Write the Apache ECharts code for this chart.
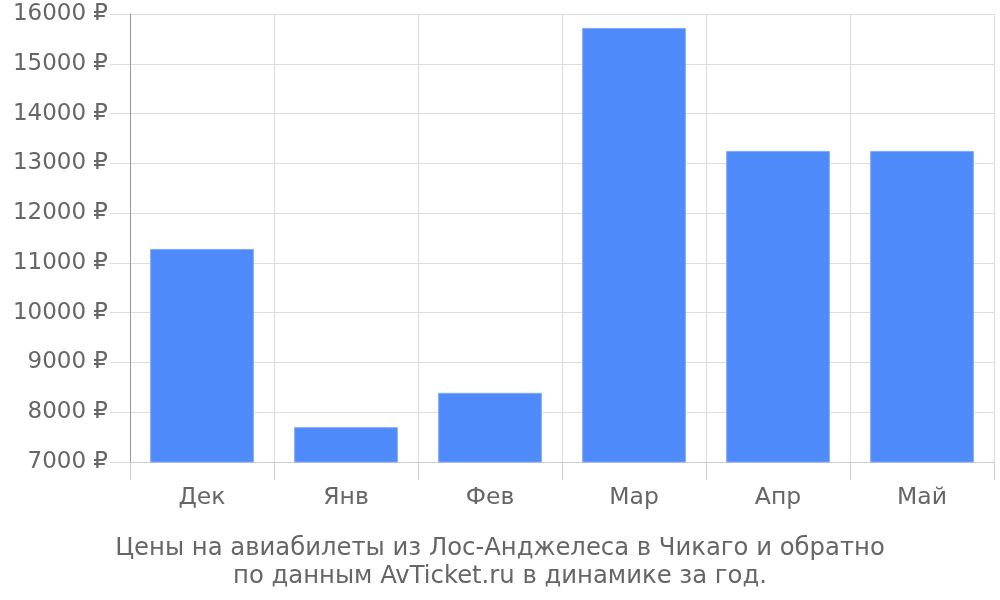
<!DOCTYPE html>
<html><head><meta charset="utf-8">
<script src="https://cdn.jsdelivr.net/npm/echarts@6/dist/echarts.min.js"></script>
<style>html,body{margin:0;padding:0;background:#fff}#c{width:1000px;height:600px}</style>
</head><body><div id="c"></div>
<script>
const categories = ['Дек', 'Янв', 'Фев', 'Мар', 'Апр', 'Май'];
const prices = [11280, 7700, 8390, 15720, 13250, 13250];
const yMin = 7000, yMax = 16000, yStep = 1000;
const titleText = 'Цены на авиабилеты из Лос-Анджелеса в Чикаго и обратно\nпо данным AvTicket.ru в динамике за год.';

const chart = echarts.init(document.getElementById('c'), null, {renderer: 'canvas'});
const font = 'DejaVu Sans';
chart.setOption({
  animation: false,
  textStyle: {fontFamily: font},
  title: {
    text: titleText, left: 'center', top: 530,
    textStyle: {fontFamily: font, fontSize: 24.3, fontWeight: 'normal', color: '#666', lineHeight: 28}
  },
  grid: {left: 130, right: 6, top: 14, bottom: 138, containLabel: false},
  xAxis: {
    type: 'category', data: categories, boundaryGap: true,
    axisLine: {show: true, lineStyle: {color: '#ccc', width: 1}},
    axisTick: {show: true, length: 18, lineStyle: {color: '#ccc'}},
    splitLine: {show: true, lineStyle: {color: '#ddd', width: 1}},
    axisLabel: {fontFamily: font, fontSize: 23.5, color: '#666', margin: 24}
  },
  yAxis: {
    type: 'value', min: yMin, max: yMax, interval: yStep,
    axisLine: {show: true, lineStyle: {color: '#999', width: 1}},
    axisTick: {show: true, length: 20, lineStyle: {color: '#ddd'}},
    splitLine: {show: true, lineStyle: {color: '#ddd', width: 1}},
    axisLabel: {fontFamily: font, fontSize: 23, color: '#666', margin: 22, formatter: v => v + ' ₽'}
  },
  series: [{
    type: 'bar', data: prices, barWidth: '72%',
    itemStyle: {color: '#4e8af9', borderColor: '#7aa8fb', borderWidth: 1}
  }]
});
</script></body></html>
